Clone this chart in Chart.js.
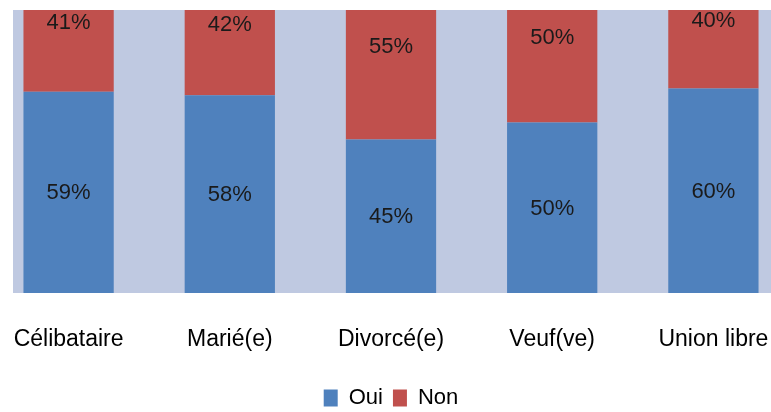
<!DOCTYPE html>
<html lang="fr">
<head>
    <meta charset="UTF-8">
    <title>Oui / Non par situation familiale</title>
    <script src="https://cdn.jsdelivr.net/npm/chart.js"></script>
    <style>
        body { margin: 0; background: #fff; }
        #wrap { position: absolute; left: 13px; top: 10px; width: 758px; height: 402px; overflow: hidden; }
        #box { position: absolute; left: -25px; top: -58px; width: 806px; height: 467px; }
    </style>
</head>
<body>
    <div id="wrap">
        <div id="box"><canvas id="chart"></canvas></div>
    </div>

    <script>
        // Données
        const categories = ['Célibataire', 'Marié(e)', 'Divorcé(e)', 'Veuf(ve)', 'Union libre'];
        const oui = [59, 58, 45, 50, 60];
        const non = [41, 42, 55, 50, 40];

        // fond de la zone de tracé
        const plotBg = {
            id: 'plotBg',
            beforeDraw(chart) {
                const a = chart.chartArea;
                chart.ctx.save();
                chart.ctx.fillStyle = '#BFC9E1';
                chart.ctx.fillRect(a.left, a.top, a.right - a.left, a.bottom - a.top);
                chart.ctx.restore();
            }
        };

        // étiquettes au centre des segments
        const segLabels = {
            id: 'segLabels',
            afterDatasetsDraw(chart) {
                const ctx = chart.ctx;
                ctx.save();
                ctx.font = '22px "Liberation Sans", Arial, sans-serif';
                ctx.fillStyle = '#1a1a1a';
                ctx.textAlign = 'center';
                ctx.textBaseline = 'middle';
                chart.data.datasets.forEach((ds, i) => {
                    chart.getDatasetMeta(i).data.forEach((bar, j) => {
                        ctx.fillText(ds.data[j] + '%', bar.x, (bar.y + bar.base) / 2 + 1);
                    });
                });
                ctx.restore();
            }
        };

        new Chart(document.getElementById('chart'), {
            type: 'bar',
            data: {
                labels: categories,
                datasets: [
                    { label: 'Oui', data: oui, backgroundColor: '#4F81BD' },
                    { label: 'Non', data: non, backgroundColor: '#C0504D' }
                ]
            },
            options: {
                responsive: true,
                maintainAspectRatio: false,
                animation: false,
                layout: { padding: 0 },
                datasets: { bar: { categoryPercentage: 1, barPercentage: 0.56 } },
                scales: {
                    x: {
                        stacked: true,
                        grid: { display: false },
                        border: { display: false },
                        ticks: {
                            padding: 25,
                            color: '#000',
                            font: { family: '"Liberation Sans", Arial, sans-serif', size: 23 }
                        },
                        afterFit(scale) { scale.height = 84; }
                    },
                    y: { stacked: true, display: false, min: 0, max: 100 }
                },
                plugins: {
                    legend: {
                        position: 'bottom',
                        labels: {
                            boxWidth: 14,
                            boxHeight: 17,
                            color: '#000',
                            font: { family: '"Liberation Sans", Arial, sans-serif', size: 22 }
                        }
                    },
                    tooltip: { enabled: false }
                }
            },
            plugins: [plotBg, segLabels]
        });
    </script>
</body>
</html>
